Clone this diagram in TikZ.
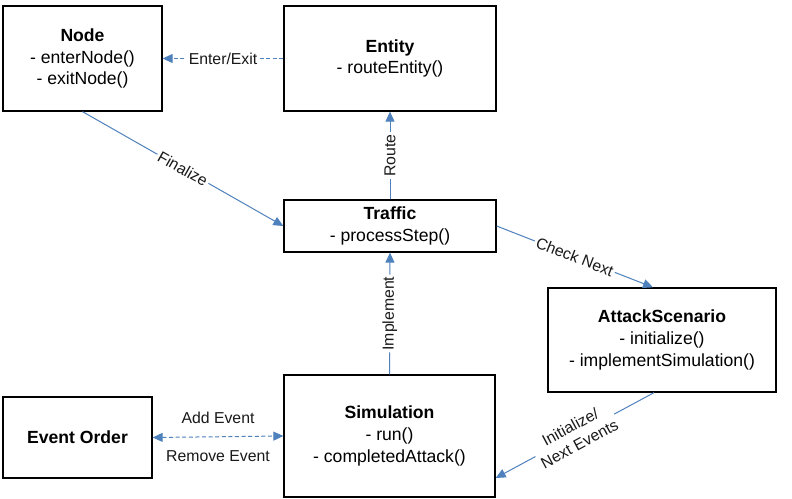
\documentclass[tikz,border=0pt]{standalone}
\usepackage{fontspec}
\setmainfont{Liberation Sans}
\usetikzlibrary{arrows.meta,calc}
\definecolor{linkblue}{RGB}{79,129,189}
\begin{document}
\begin{tikzpicture}[x=0.5pt,y=-0.5pt,
  box/.style={draw=black,line width=0.65pt,fill=white,align=center,inner sep=0pt,
    font=\fontsize{8.8}{10.8}\selectfont},
  link/.style={draw=linkblue,line width=0.5pt,-{Triangle[length=5pt,width=4.5pt]}},
  dlink/.style={link,dash pattern=on 2pt off 1.3pt},
  lbl/.style={font=\fontsize{7.9}{9.8}\selectfont,fill=white,inner sep=1pt,text=black!90,align=center}]
\useasboundingbox[fill=white] (0,0) rectangle (792,498);

\node[box,minimum width=79.5pt,minimum height=52.5pt] (node) at (82.5,58.5)
  {\textbf{Node}\\- enterNode()\\- exitNode()};
\node[box,minimum width=106pt,minimum height=52.5pt] (entity) at (390,58.5)
  {\textbf{Entity}\\- routeEntity()};
\node[box,minimum width=106pt,minimum height=26pt] (traffic) at (390,226)
  {\textbf{Traffic}\\- processStep()};
\node[box,minimum width=114pt,minimum height=52pt] (attack) at (662,340)
  {\textbf{AttackScenario}\\- initialize()\\- implementSimulation()};
\node[box,minimum width=74.5pt,minimum height=40.5pt] (events) at (77.5,437.5)
  {\textbf{Event Order}};
\node[box,minimum width=105.5pt,minimum height=61pt] (sim) at (389.5,436)
  {\textbf{Simulation}\\- run()\\- completedAttack()};

\path[dlink] (entity.west) -- node[lbl] {Enter/Exit} (node.east);
\path[link] (node.south) -- node[lbl,sloped] {Finalize} (traffic.west);
\path[link] (traffic.north) -- node[lbl,sloped] {Route} (entity.south);
\path[link] (sim.north) -- node[lbl,sloped] {Implement} (traffic.south);
\path[link] (traffic.east) -- node[lbl,sloped] {Check Next} ([xshift=-4.5pt]attack.north);
\path[link] ([xshift=-4pt]attack.south) -- node[lbl,sloped] {Initialize/\\Next Events} ([yshift=-21pt]sim.east);
\path[dlink,{Triangle[length=5pt,width=4.5pt]}-{Triangle[length=5pt,width=4.5pt]}] (events.east) -- (sim.west)
  node[lbl,pos=0.5,above=5.5pt] {Add Event}
  node[lbl,pos=0.5,below=5.5pt] {Remove Event};
\end{tikzpicture}
\end{document}
